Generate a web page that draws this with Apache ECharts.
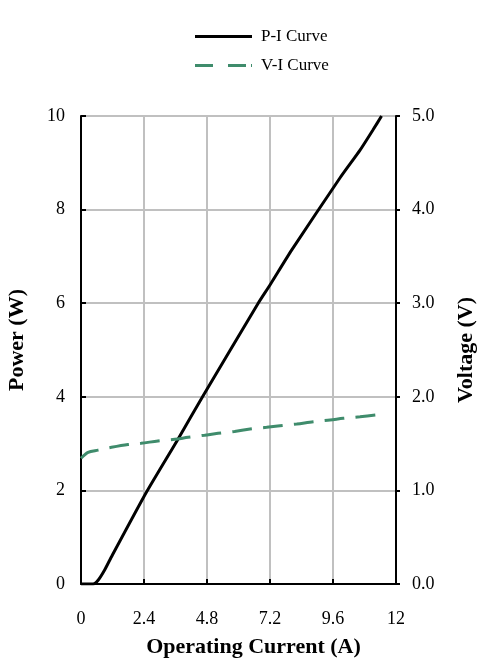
<!DOCTYPE html>
<html>
<head>
<meta charset="utf-8">
<script src="https://cdn.jsdelivr.net/npm/echarts@6/dist/echarts.min.js"></script>
<style>html,body{margin:0;padding:0;background:#fff}#c{width:480px;height:663px}</style>
</head>
<body>
<div id="c"></div>
<script>
var seriesNames = ['P-I Curve', 'V-I Curve'];
var xTicks = [0, 2.4, 4.8, 7.2, 9.6, 12];
var piCurrent = [0, 0.46, 0.65, 0.9, 1.14, 2.48, 3.70, 4.63, 6.75, 7.2, 8.03, 9.87, 10.63, 11.12, 11.45];
var piPower   = [0, 0, 0.08, 0.3, 0.56, 1.95, 3.1, 4.0, 6.0, 6.39, 7.14, 8.68, 9.27, 9.7, 10.0];
var viCurrent = [0, 0.27, 0.65, 1.16, 1.79, 2.29, 2.93, 3.57, 4.08, 4.71, 5.22, 5.85, 6.44, 7.07, 7.58, 8.22, 8.85, 9.49, 9.99, 10.63, 11.26];
var viVoltage = [1.343, 1.407, 1.43, 1.46, 1.49, 1.503, 1.528, 1.546, 1.567, 1.59, 1.61, 1.63, 1.656, 1.674, 1.69, 1.71, 1.734, 1.752, 1.77, 1.787, 1.806];

function zip(a, b) { return a.map(function (v, i) { return [v, b[i]]; }); }

var serif = '"Liberation Serif", "Times New Roman", serif';
var green = '#3f8c6c';
var legendText = { fontFamily: serif, fontSize: 17, color: '#000', padding: [2, 0, 0, 4] };
var chart = echarts.init(document.getElementById('c'));
chart.setOption({
  animation: false,
  backgroundColor: '#fff',
  textStyle: { fontFamily: serif },
  legend: [{
    left: 190, top: 23, itemWidth: 57, itemHeight: 3,
    textStyle: legendText,
    data: [{ name: seriesNames[0], icon: 'path://M0,0h57v3h-57z', itemStyle: { color: '#000' } }]
  }, {
    left: 190, top: 52, itemWidth: 57, itemHeight: 3,
    textStyle: legendText,
    data: [{ name: seriesNames[1], icon: 'path://M0,0h18v3h-18z M33,0h18v3h-18z M56,0h1v3h-1z', itemStyle: { color: green } }]
  }],
  grid: { left: 81, right: 84, top: 116, bottom: 79, containLabel: false, outerBoundsMode: 'none' },
  xAxis: {
    type: 'value', min: 0, max: 12, interval: 2.4,
    name: 'Operating Current (A)', nameLocation: 'middle', nameGap: 52,
    nameTextStyle: { fontFamily: serif, fontSize: 22, fontWeight: 'bold', color: '#000', padding: [0, 0, 0, 30] },
    axisLine: { show: true, lineStyle: { color: '#000', width: 2 } },
    axisTick: { show: true, inside: true, length: 5, lineStyle: { color: '#000', width: 2 } },
    axisLabel: { fontFamily: serif, fontSize: 18, color: '#000', margin: 26,
      formatter: function (v) { var t = xTicks.find(function (x) { return Math.abs(x - v) < 1e-6; }); return t === undefined ? '' : String(t); } },
    splitLine: { show: true, lineStyle: { color: '#c0c0c0', width: 2 } }
  },
  yAxis: [{
    type: 'value', min: 0, max: 10, interval: 2, position: 'left',
    name: 'Power (W)', nameLocation: 'middle', nameGap: 53,
    nameTextStyle: { fontFamily: serif, fontSize: 22, fontWeight: 'bold', color: '#000', padding: [0, 0, 0, 20] },
    axisLine: { show: true, lineStyle: { color: '#000', width: 2 } },
    axisTick: { show: true, inside: true, length: 5, lineStyle: { color: '#000', width: 2 } },
    axisLabel: { fontFamily: serif, fontSize: 18, color: '#000', margin: 16 },
    splitLine: { show: true, lineStyle: { color: '#c0c0c0', width: 2 } }
  }, {
    type: 'value', min: 0, max: 5, interval: 1, position: 'right',
    name: 'Voltage (V)', nameLocation: 'middle', nameGap: 59, nameRotate: 90,
    nameTextStyle: { fontFamily: serif, fontSize: 22, fontWeight: 'bold', color: '#000' },
    axisLine: { show: true, lineStyle: { color: '#000', width: 2 } },
    axisTick: { show: true, inside: false, length: 4, lineStyle: { color: '#000', width: 2 } },
    axisLabel: { fontFamily: serif, fontSize: 18, color: '#000', margin: 16,
      formatter: function (v) { return v.toFixed(1); } },
    splitLine: { show: false }
  }],
  series: [{
    name: seriesNames[0], type: 'line', yAxisIndex: 0, symbol: 'none', smooth: 0.2,
    data: zip(piCurrent, piPower),
    lineStyle: { color: '#000', width: 3 }, itemStyle: { color: '#000' }
  }, {
    name: seriesNames[1], type: 'line', yAxisIndex: 1, symbol: 'none', smooth: 0.3,
    data: zip(viCurrent, viVoltage),
    lineStyle: { color: green, width: 3, type: [20, 11] }, itemStyle: { color: green }
  }]
});
</script>
</body>
</html>
